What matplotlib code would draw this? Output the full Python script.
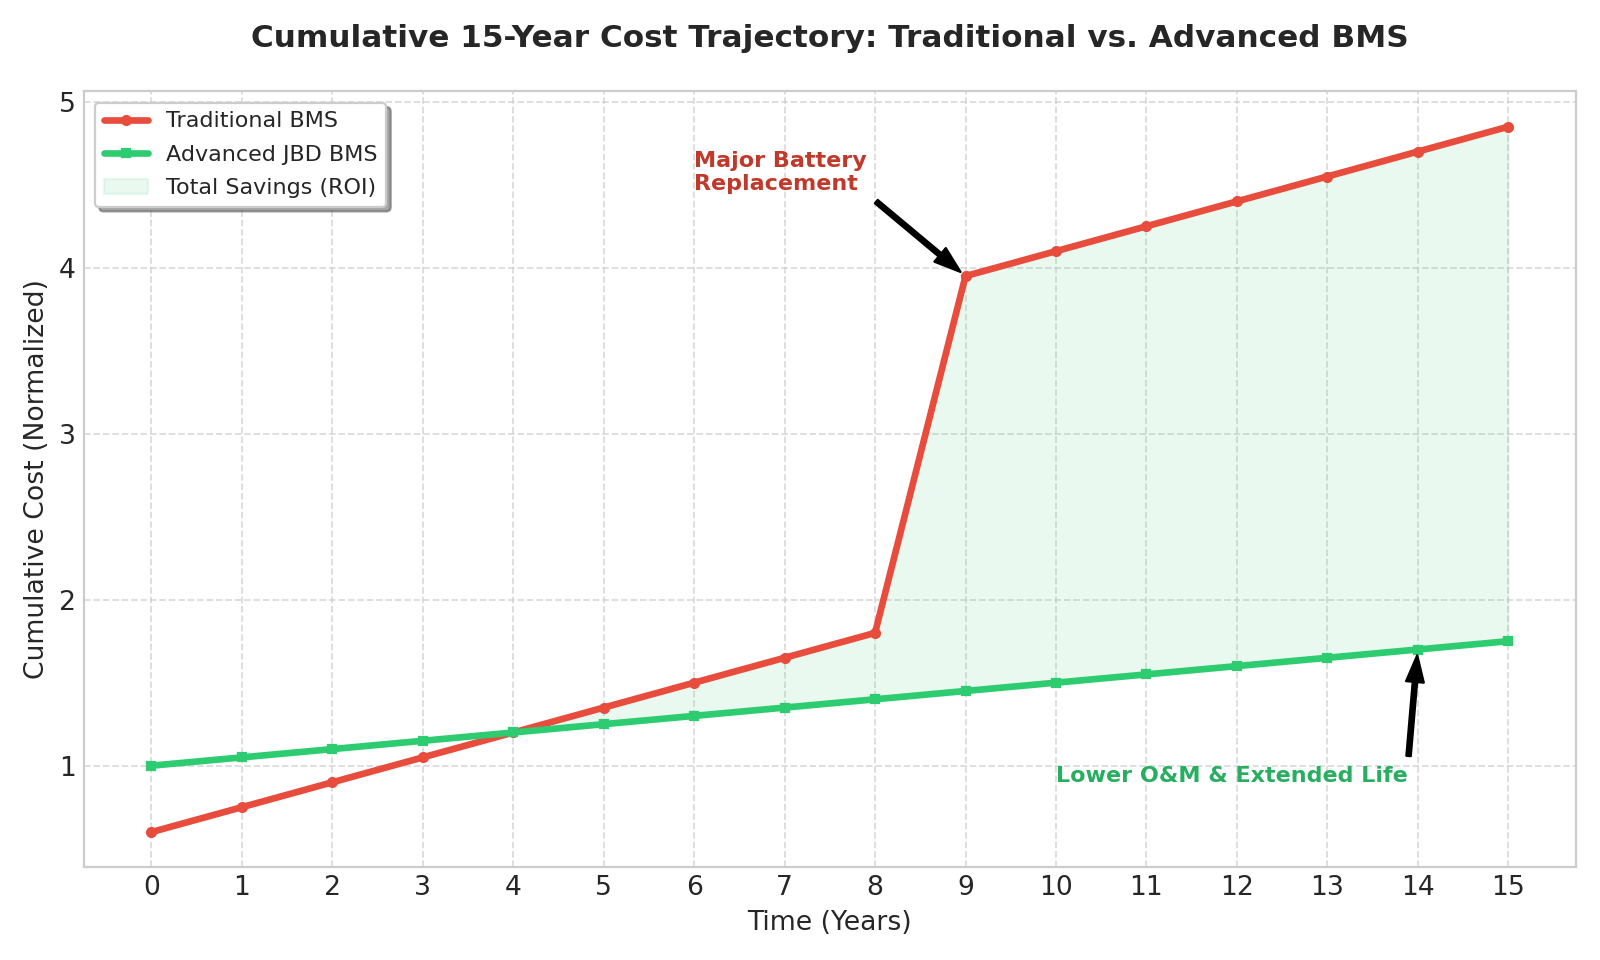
import numpy as np
import matplotlib
matplotlib.use("Agg")
import matplotlib.pyplot as plt

years = list(range(0, 16))
traditional = [0.6, 0.75, 0.9, 1.05, 1.2, 1.35, 1.5, 1.65, 1.8, 3.95, 4.1, 4.25, 4.4, 4.55, 4.7, 4.85]
advanced = [1.0, 1.05, 1.1, 1.15, 1.2, 1.25, 1.3, 1.35, 1.4, 1.45, 1.5, 1.55, 1.6, 1.65, 1.7, 1.75]

plt.style.use('seaborn-v0_8-whitegrid')
plt.rcParams['font.family'] = 'DejaVu Sans'
fig, ax = plt.subplots(figsize=(10, 6), dpi=160)

ax.plot(years, traditional, color='#e74c3c', linewidth=3, marker='o', markersize=4, label='Traditional BMS')
ax.plot(years, advanced, color='#2ecc71', linewidth=3, marker='s', markersize=4, label='Advanced JBD BMS')
t = np.array(traditional)
a = np.array(advanced)
ax.fill_between(years, t, a, where=(t >= a), interpolate=True, color='#2ecc71', alpha=0.1,
                label='Total Savings (ROI)')

# annotations
ax.annotate('Major Battery\nReplacement', xy=(9, 3.95), xytext=(6, 4.47),
            arrowprops=dict(facecolor='black', shrink=0.05, width=2, headwidth=8),
            fontsize=10, fontweight='bold', color='#c0392b')
ax.annotate('Lower O&M & Extended Life', xy=(14, 1.7), xytext=(10, 0.9),
            arrowprops=dict(facecolor='black', shrink=0.05, width=2, headwidth=8),
            fontsize=10, fontweight='bold', color='#27ae60')

ax.set_title('Cumulative 15-Year Cost Trajectory: Traditional vs. Advanced BMS',
             fontsize=14, fontweight='bold', pad=20)
ax.set_xlabel('Time (Years)', fontsize=12)
ax.set_ylabel('Cumulative Cost (Normalized)', fontsize=12)
ax.set_xticks(years)
ax.tick_params(labelsize=12)
ax.grid(True, linestyle='--', alpha=0.7)
ax.legend(loc='upper left', frameon=True, shadow=True, fontsize=10, labelspacing=0.6)

plt.tight_layout()
plt.savefig('out.png')
